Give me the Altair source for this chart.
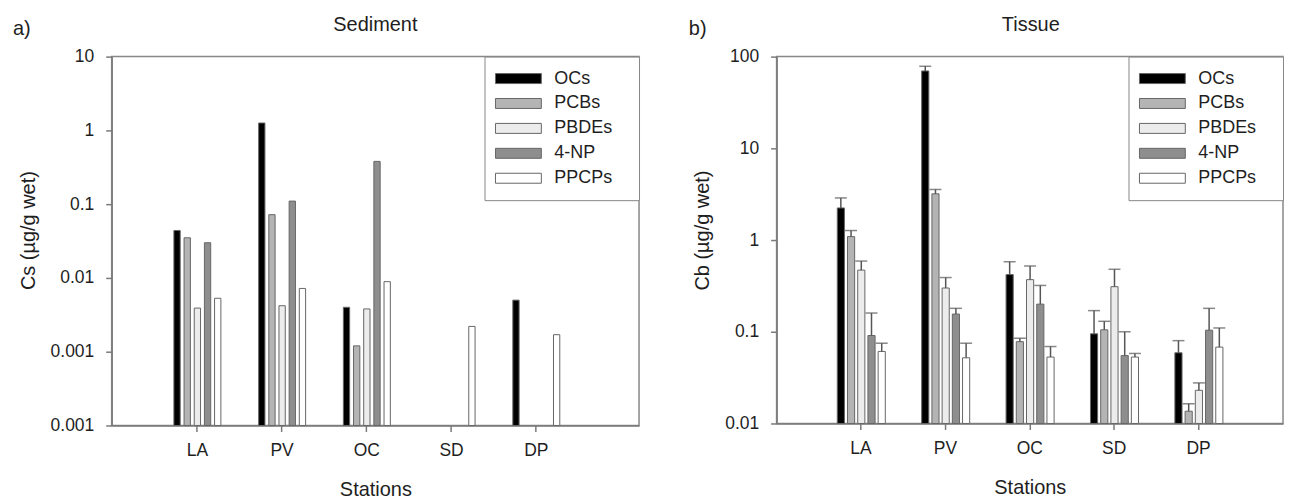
import altair as alt
import pandas as pd

stations = ["LA", "PV", "OC", "SD", "DP"]
groups = ["OCs", "PCBs", "PBDEs", "4-NP", "PPCPs"]
fills = ["#000000", "#b4b4b4", "#ececec", "#8e8e8e", "#ffffff"]

# a) Sediment, Cs (µg/g wet); None = no bar
sed_ocs = [0.044, 1.26, 0.0040, None, 0.0050]
sed_pcbs = [0.035, 0.072, 0.0012, None, None]
sed_pbdes = [0.0039, 0.0042, 0.0038, None, None]
sed_np = [0.030, 0.11, 0.38, None, None]
sed_ppcps = [0.0053, 0.0072, 0.0089, 0.0022, 0.0017]

# b) Tissue, Cb (µg/g wet): mean and top of error bar
tis_ocs = [2.24, 69.8, 0.42, 0.095, 0.059]
tis_ocs_hi = [2.88, 78.5, 0.58, 0.17, 0.080]
tis_pcbs = [1.09, 3.19, 0.078, 0.105, 0.0136]
tis_pcbs_hi = [1.27, 3.56, 0.085, 0.13, 0.0164]
tis_pbdes = [0.47, 0.30, 0.37, 0.31, 0.023]
tis_pbdes_hi = [0.59, 0.39, 0.52, 0.48, 0.0277]
tis_np = [0.091, 0.156, 0.20, 0.055, 0.104]
tis_np_hi = [0.16, 0.18, 0.32, 0.10, 0.18]
tis_ppcps = [0.061, 0.052, 0.053, 0.053, 0.068]
tis_ppcps_hi = [0.075, 0.075, 0.069, 0.058, 0.11]

sed_ticks = [0.0001, 0.001, 0.01, 0.1, 1, 10]
tis_ticks = [0.01, 0.1, 1, 10, 100]
SED_MIN, SED_MAX = 0.0001, 10
TIS_MIN, TIS_MAX = 0.01, 100

rows = []
for g, vals in zip(groups, [sed_ocs, sed_pcbs, sed_pbdes, sed_np, sed_ppcps]):
    for s, v in zip(stations, vals):
        if v is not None:
            rows.append({"station": s, "group": g, "value": v, "base": SED_MIN})
sed_df = pd.DataFrame(rows)

rows = []
for g, vals, his in zip(groups,
                        [tis_ocs, tis_pcbs, tis_pbdes, tis_np, tis_ppcps],
                        [tis_ocs_hi, tis_pcbs_hi, tis_pbdes_hi, tis_np_hi, tis_ppcps_hi]):
    for s, v, h in zip(stations, vals, his):
        rows.append({"station": s, "group": g, "value": v, "hi": h, "base": TIS_MIN})
tis_df = pd.DataFrame(rows)

AX = "#7a7a7a"
TXT = "#1e1e1e"
PADCH = "\u2800"

W_L, H_L = 529, 370
W_R, H_R = 508, 368


def xenc(pout, align):
    return alt.X(
        "station:N", sort=stations, title="Stations",
        scale=alt.Scale(domain=stations, paddingInner=0, paddingOuter=pout, align=align),
        axis=alt.Axis(labelAngle=0, tickSize=6, tickColor=AX, domainColor=AX, domainWidth=1.5,
                      tickWidth=1.5, labelFontSize=17.5, titleFontSize=20, titleFontWeight="normal",
                      labelPadding=10, titlePadding=21, labelColor=TXT, titleColor=TXT, grid=False),
    )


def offenc(pin, pout, hi):
    return alt.XOffset("group:N", sort=groups,
                       scale=alt.Scale(domain=groups, range=[17, hi], paddingInner=pin, paddingOuter=pout))


def yaxis(ticks):
    return alt.Axis(values=ticks, tickSize=6, tickColor=AX, domainColor=AX, domainWidth=1.5,
                    tickWidth=1.5, labelFontSize=17.5, titleFontSize=20, titleFontWeight="normal",
                    labelPadding=12, titlePadding=12, labelColor=TXT, titleColor=TXT, grid=False,
                    titleY=174,
                    labelExpr="datum.value < 0.0005 ? '0.001' : format(datum.value, '~g')")


def legend():
    return alt.Legend(title=None, orient="top-right", offset=0,
                      symbolType="M-4.6,-1H4.6V1H-4.6Z", symbolSize=100, symbolOffset=12,
                      symbolStrokeColor="#666666", symbolStrokeWidth=1,
                      labelFontSize=18, labelColor=TXT, labelOffset=27, rowPadding=7, padding=13,
                      strokeColor="#888888", fillColor="white",
                      labelExpr="datum.label + '" + PADCH + "'")


def fill():
    return alt.Fill("group:N", scale=alt.Scale(domain=groups, range=fills), legend=legend())


def tag(text, x, y, align):
    return alt.Chart(pd.DataFrame({"t": [text]})).mark_text(
        align=align, baseline="alphabetic", fontSize=20, color=TXT).encode(
        x=alt.value(x), y=alt.value(y), text="t:N")


xl = lambda: xenc(0.612, 0.418)
xr = lambda: xenc(0.5, 0.5)
off_l = lambda: offenc(0.38, 0.19, 68)
off_r = lambda: offenc(0.3, 0.15, 68.25)

bars_l = alt.Chart(sed_df).mark_bar(stroke="#666666", strokeWidth=1).encode(
    x=xl(), xOffset=off_l(),
    y=alt.Y("value:Q", title="Cs (µg/g wet)",
            scale=alt.Scale(type="log", domain=[SED_MIN, SED_MAX], nice=False), axis=yaxis(sed_ticks)),
    y2="base:Q",
    fill=fill(),
)
left = alt.layer(
    bars_l, tag("a)", -99, -22, "left"), tag("Sediment", W_L / 2, -26, "center")
).properties(width=W_L, height=H_L)

bars_r = alt.Chart(tis_df).mark_bar(stroke="#666666", strokeWidth=1).encode(
    x=xr(), xOffset=off_r(),
    y=alt.Y("value:Q", title="Cb (µg/g wet)",
            scale=alt.Scale(type="log", domain=[TIS_MIN, TIS_MAX], nice=False), axis=yaxis(tis_ticks)),
    y2="base:Q",
    fill=fill(),
)
err_r = alt.Chart(tis_df).mark_rule(color="#555555", strokeWidth=1.5).encode(
    x=xr(), xOffset=off_r(), y="value:Q", y2="hi:Q")
cap_r = alt.Chart(tis_df).mark_tick(orient="horizontal", size=12, thickness=1.5, color="#555555").encode(
    x=xr(), xOffset=off_r(), y="hi:Q")

right = alt.layer(
    bars_r, err_r, cap_r, tag("b)", -88, -22, "left"), tag("Tissue", (1030 - 775), -26, "center")
).properties(width=W_R, height=H_R)

chart = alt.hconcat(left, right, spacing=47).resolve_scale(
    x="independent", y="independent", fill="independent", xOffset="independent"
).resolve_legend(fill="independent").configure(
    font="Liberation Sans", padding={"left": 4, "top": 5, "right": 0, "bottom": 0}
).configure_view(stroke="#888888", strokeWidth=1.5)

chart.save("out.html", embed_options={"renderer": "svg", "actions": False})
